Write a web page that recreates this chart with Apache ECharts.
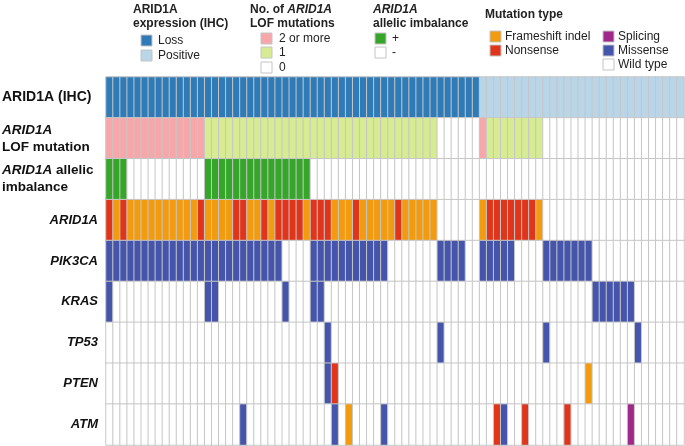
<!DOCTYPE html>
<html>
<head>
<meta charset="utf-8">
<script src="https://cdn.jsdelivr.net/npm/echarts@6/dist/echarts.min.js"></script>
<style>
  html, body { margin: 0; padding: 0; background: #fff; }
  #chart { width: 685px; height: 446px; }
</style>
</head>
<body>
<div id="chart"></div>
<script>
// one character per sample (82 samples), spaces only group by tens
var ihcRow    = 'LLLLLLLLLL LLLLLLLLLL LLLLLLLLLL LLLLLLLLLL LLLLLLLLLL LLLPPPPPPP PPPPPPPPPP PPPPPPPPPP PP';
var lofRow    = '2222222222 2222111111 1111111111 1111111111 1111111000 0002111111 1100000000 0000000000 00';
var aiRow     = '+++------- ----++++++ +++++++++- ---------- ---------- ---------- ---------- ---------- --';
var arid1aRow = 'NFNFFFFFFF FFFNFFFFNN FFNFNNNNFN NNFFFNFFFF FNFFFFF... ...FNNNNNN NF........ .......... ..';
var pik3caRow = 'MMMMMMMMMM MMMMMMMMMM MMMMM....M MMMMMMMMMM .......MMM M..MMMMM.. ..MMMMMMM. .......... ..';
var krasRow   = 'M......... ....MM.... .....M...M M......... .......... .......... .........M MMMMM..... ..';
var tp53Row   = '.......... .......... .......... .M........ .......M.. .......... ..M....... .....M.... ..';
var ptenRow   = '.......... .......... .......... .MN....... .......... .......... ........F. .......... ..';
var atmRow    = '.......... .........M .......... ..M.F....M .......... .....NM..N .....N.... ....S..... ..';

var rowLabels = ['ARID1A (IHC)', 'ARID1A LOF mutation', 'ARID1A allelic imbalance',
                 'ARID1A', 'PIK3CA', 'KRAS', 'TP53', 'PTEN', 'ATM'];
var rows = [ihcRow, lofRow, aiRow, arid1aRow, pik3caRow, krasRow, tp53Row, ptenRow, atmRow];

// code -> colour
var codeColors = {
    'L': '#2f7bb7',  // loss
    'P': '#b9d5e8',  // positive
    '2': '#f7a7aa',  // 2 or more
    '1': '#d6eb92',  // 1
    '0': '#ffffff',
    '+': '#36a62a',
    '-': '#ffffff',
    'F': '#f39b0e',  // frameshift indel
    'N': '#e0351b',  // nonsense
    'S': '#a1288b',  // splicing
    'M': '#4555ab',  // missense
    '.': '#ffffff'   // wild type
};
var codeKeys = Object.keys(codeColors);

var samples = [];
var cells = [];
rows.forEach(function(str, r){
    var s = str.replace(/ /g, '');
    for(var i = 0; i < s.length; i++){
        if(r == 0) samples.push('S' + (i + 1));
        cells.push([i, r, codeKeys.indexOf(s[i])]);
    }
});

var pieces = codeKeys.map(function(k, i){
    return {value: i, color: codeColors[k]};
});

// legend helpers
var legendItems = [];
function swatch(x, y, color){
    legendItems.push({
        type: 'rect', silent: true,
        shape: {x: x, y: y, width: 11, height: 11},
        style: {fill: color, stroke: '#c4c4c4', lineWidth: 1}
    });
}
function label(x, y, text, bold){
    legendItems.push({
        type: 'text', silent: true, x: x, y: y,
        style: {
            text: text,
            fill: '#222',
            verticalAlign: 'middle',
            font: (bold ? 'bold ' : '') + '12px "Liberation Sans", Arial, sans-serif',
            rich: {
                b: {fontWeight: 'bold', fontSize: 12, fontFamily: 'Liberation Sans'},
                bi: {fontWeight: 'bold', fontStyle: 'italic', fontSize: 12, fontFamily: 'Liberation Sans'}
            }
        }
    });
}

// ARID1A expression
label(133, 10, 'ARID1A', true);
label(133, 24, 'expression (IHC)', true);
swatch(141, 35, codeColors.L); label(158, 41, 'Loss');
swatch(141, 50, codeColors.P); label(158, 56, 'Positive');
// LOF count
label(250, 10, '{b|No. of }{bi|ARID1A}');
label(250, 24, 'LOF mutations', true);
swatch(261, 33, codeColors['2']); label(279, 39, '2 or more');
swatch(261, 47, codeColors['1']); label(279, 53, '1');
swatch(261, 62, '#ffffff'); label(279, 68, '0');
// allelic imbalance
label(373, 10, '{bi|ARID1A}');
label(373, 24, 'allelic imbalance', true);
swatch(375, 33, codeColors['+']); label(392, 39, '+');
swatch(375, 47, '#ffffff'); label(392, 53, '-');
// mutation type
label(485, 15, 'Mutation type', true);
swatch(490, 31, codeColors.F); label(505, 37, 'Frameshift indel');
swatch(490, 45, codeColors.N); label(505, 51, 'Nonsense');
swatch(603, 31, codeColors.S); label(618, 37, 'Splicing');
swatch(603, 45, codeColors.M); label(618, 51, 'Missense');
swatch(603, 59, '#ffffff'); label(618, 65, 'Wild type');

var labelFmt = {
    'ARID1A (IHC)': '{h|ARID1A (IHC)}',
    'ARID1A LOF mutation': '{i|ARID1A}\n{b|LOF mutation}',
    'ARID1A allelic imbalance': '{i|ARID1A}{b| allelic}\n{b|imbalance}'
};

var myChart = echarts.init(document.getElementById('chart'));
var option = {
    animation: false,
    backgroundColor: '#fff',
    grid: {left: 106, right: 1, top: 77, bottom: 1, containLabel: false, outerBoundsMode: 'none'},
    xAxis: {
        type: 'category',
        data: samples,
        show: false
    },
    yAxis: {
        type: 'category',
        data: rowLabels,
        inverse: true,
        axisLine: {show: false},
        axisTick: {show: false},
        splitLine: {show: false},
        axisLabel: {
            align: 'left',
            margin: 104,
            interval: 0,
            color: '#111',
            formatter: function(v){
                return labelFmt[v] || '{r|' + v + '}';
            },
            rich: {
                h: {fontWeight: 'bold', fontSize: 14, fontFamily: 'Liberation Sans', color: '#111'},
                b: {fontWeight: 'bold', fontSize: 13.5, fontFamily: 'Liberation Sans', lineHeight: 17, color: '#111'},
                i: {fontWeight: 'bold', fontStyle: 'italic', fontSize: 13.5, fontFamily: 'Liberation Sans', lineHeight: 17, color: '#111'},
                r: {fontWeight: 'bold', fontStyle: 'italic', fontSize: 13, fontFamily: 'Liberation Sans', lineHeight: 17, color: '#111', width: 96, align: 'right'}
            }
        }
    },
    visualMap: {
        type: 'piecewise',
        show: false,
        dimension: 2,
        pieces: pieces
    },
    graphic: legendItems,
    series: [{
        type: 'heatmap',
        data: cells,
        itemStyle: {borderColor: '#c6c6c6', borderWidth: 1},
        emphasis: {disabled: true}
    }]
};
myChart.setOption(option);
</script>
</body>
</html>
